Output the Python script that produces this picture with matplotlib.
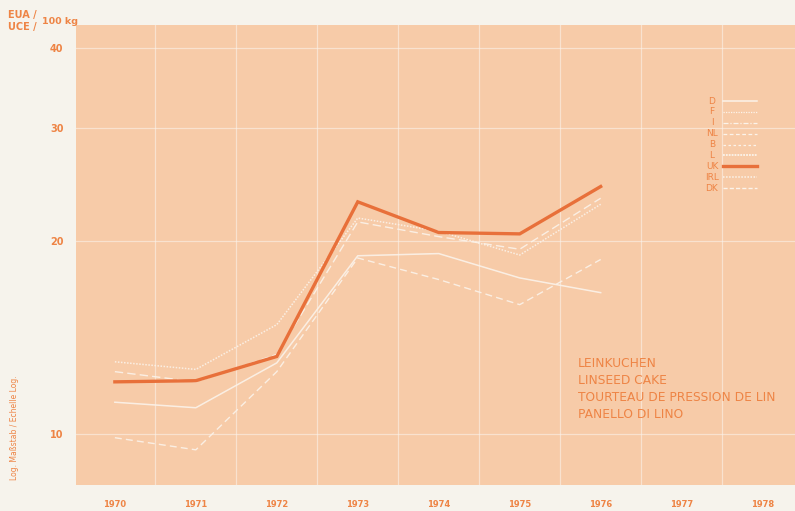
import numpy as np
import matplotlib
matplotlib.use('Agg')
import matplotlib.pyplot as plt
from matplotlib.lines import Line2D

# Data (EUA/UCE per 100 kg)
years = [1970, 1971, 1972, 1973, 1974, 1975, 1976]
uk = [12.05, 12.1, 13.2, 23.0, 20.6, 20.5, 24.3]
irl = [12.95, 12.6, 14.8, 21.7, 20.7, 19.0, 22.8]
dk = [12.5, 12.05, 13.3, 21.4, 20.3, 19.4, 23.3]
d = [11.2, 10.98, 12.9, 18.95, 19.1, 17.5, 16.6]
nl = [9.86, 9.44, 12.5, 18.8, 17.4, 15.9, 18.7]

tick_years = [1970, 1971, 1972, 1973, 1974, 1975, 1976, 1977, 1978]
y_ticks = [10, 20, 30, 40]
legend_codes = ['D', 'F', 'I', 'NL', 'B', 'L', 'UK', 'IRL', 'DK']
title_lines = ['LEINKUCHEN', 'LINSEED CAKE', 'TOURTEAU DE PRESSION DE LIN', 'PANELLO DI LINO']

# Colours
page = '#f6f3ec'
peach = '#f7cba8'
orange = '#e8703a'
text_orange = '#ee8445'
white = '#fbf3ea'

fig = plt.figure(figsize=(7.95, 5.11), dpi=100, facecolor=page)
ax = fig.add_axes([76 / 795, 26 / 511, 719 / 795, 460 / 511])
ax.set_facecolor(peach)
ax.set_yscale('log')
ax.set_xlim(1969.52, 1978.4)
ax.set_ylim(8.32, 43.4)

# grid
for x in np.array(tick_years) + 0.5:
    ax.axvline(x, color=white, lw=0.9, alpha=0.6, zorder=1)
for y in y_ticks:
    ax.axhline(y, color=white, lw=0.9, alpha=0.6, zorder=1)

# lines
ax.plot(years, nl, color=white, lw=1.0, ls=(0, (5, 3)), alpha=0.9, zorder=3)
ax.plot(years, d, color=white, lw=1.1, ls='-', alpha=0.9, zorder=3)
ax.plot(years, dk, color=white, lw=1.0, ls=(0, (6, 3)), alpha=0.9, zorder=3)
ax.plot(years, irl, color=white, lw=1.1, ls=(0, (1, 1)), alpha=0.9, zorder=3)
ax.plot(years, uk, color=orange, lw=2.4, zorder=4, solid_joinstyle='miter')

# axes styling
for s in ax.spines.values():
    s.set_visible(False)
ax.set_yticks(y_ticks)
ax.set_yticklabels([str(v) for v in y_ticks])
ax.yaxis.set_minor_locator(matplotlib.ticker.NullLocator())
ax.set_xticks(tick_years)
ax.set_xticklabels([str(v) for v in tick_years])
ax.tick_params(axis='both', length=0, colors=text_orange)
ax.tick_params(axis='y', pad=9, labelsize=7)
ax.tick_params(axis='x', pad=11, labelsize=6)
for lab in ax.get_xticklabels() + ax.get_yticklabels():
    lab.set_fontweight('bold')

# legend drawn by hand
styles = {
    'D': dict(color=white, lw=1.1, ls='-'),
    'F': dict(color=white, lw=0.9, ls=(0, (1, 1))),
    'I': dict(color=white, lw=0.9, ls=(0, (4, 1.5, 1, 1.5))),
    'NL': dict(color=white, lw=0.9, ls=(0, (3, 2))),
    'B': dict(color=white, lw=0.9, ls=(0, (2, 2))),
    'L': dict(color=white, lw=1.3, ls=(0, (1, 0.6))),
    'UK': dict(color=orange, lw=2.4, ls='-'),
    'IRL': dict(color=white, lw=1.1, ls=(0, (1, 1))),
    'DK': dict(color=white, lw=1.0, ls=(0, (3, 1.5))),
}
for i, code in enumerate(legend_codes):
    yp = 1 - (101 + i * 10.9) / 511
    fig.text(712 / 795, yp, code, color=text_orange, fontsize=6.5,
             ha='center', va='center')
    fig.add_artist(Line2D([723 / 795, 757 / 795], [yp, yp],
                          transform=fig.transFigure, **styles[code]))

# product name
for i, t in enumerate(title_lines):
    fig.text(578 / 795, 1 - (363 + i * 17) / 511, t, color=text_orange,
             fontsize=8.8, ha='left', va='center')

# unit label
fig.text(8 / 795, 1 - 15 / 511, 'EUA /', color=text_orange, fontsize=7,
         fontweight='bold', va='center')
fig.text(8 / 795, 1 - 27 / 511, 'UCE /', color=text_orange, fontsize=7,
         fontweight='bold', va='center')
fig.text(42 / 795, 1 - 21 / 511, '100 kg', color=text_orange, fontsize=6.8,
         fontweight='bold', va='center')

# axis note
fig.text(15 / 795, 1 - 480 / 511, 'Log. Maßstab / Echelle Log.', color=text_orange,
         fontsize=5.5, rotation=90, ha='center', va='bottom')

fig.savefig('out.png', dpi=100, facecolor=page)
